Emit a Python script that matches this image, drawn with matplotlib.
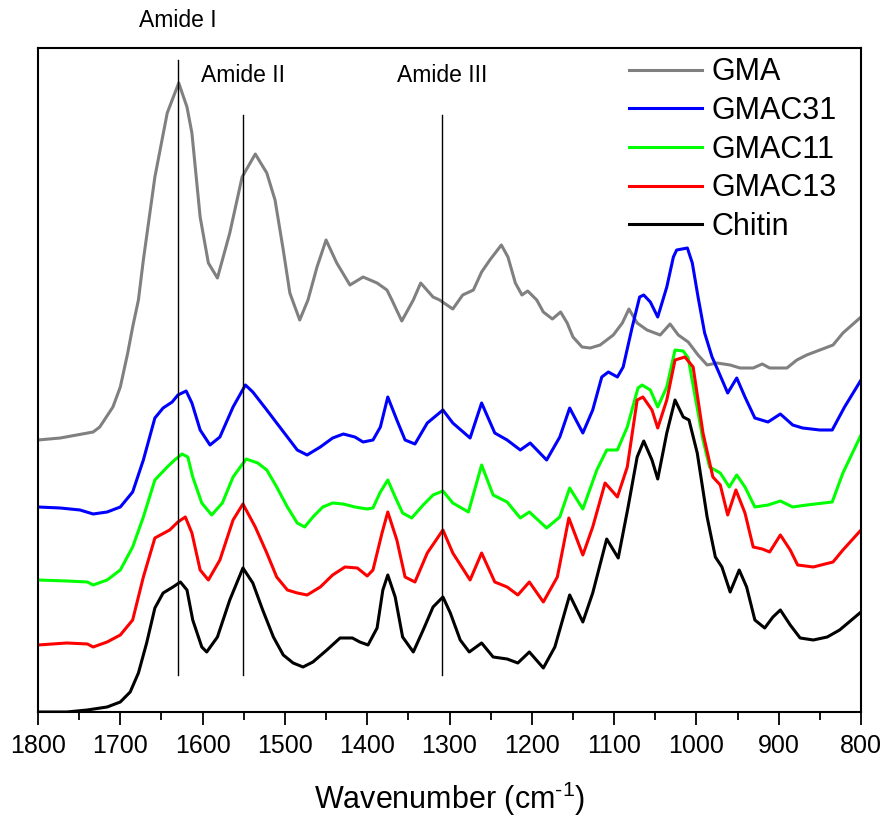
import numpy as np
import matplotlib
matplotlib.use('Agg')
import matplotlib.pyplot as plt
from matplotlib.ticker import MultipleLocator

plt.rcParams['font.family'] = ['Liberation Sans', 'DejaVu Sans']
plt.rcParams['mathtext.fontset'] = 'custom'
plt.rcParams['mathtext.rm'] = 'Liberation Sans'
plt.rcParams['mathtext.it'] = 'Liberation Sans:italic'

# spectra (wavenumber, offset intensity in arbitrary units)
gma_wn = [1800, 1773, 1753, 1733, 1725, 1709, 1700, 1691, 1685, 1678, 1672, 1658, 1643, 1637, 1629,
          1619, 1613, 1603, 1593, 1582, 1567, 1552, 1536, 1522, 1512, 1502, 1494, 1482, 1472, 1461,
          1450, 1437, 1421, 1405, 1388, 1376, 1370, 1358, 1344, 1335, 1320, 1312, 1296, 1284, 1271,
          1261, 1251, 1237, 1229, 1220, 1212, 1205, 1194, 1186, 1175, 1165, 1157, 1150, 1139, 1129,
          1117, 1101, 1090, 1082, 1072, 1060, 1044, 1032, 1022, 1010, 998, 987, 975, 959, 947, 931,
          920, 911, 890, 878, 866, 850, 834, 822, 800]
gma = [272, 274, 277, 280, 285, 305, 325, 359, 385, 412, 452, 535, 599, 612, 629,
       605, 579, 495, 449, 434, 479, 535, 558, 539, 512, 462, 419, 392, 412, 445,
       472, 449, 427, 435, 429, 422, 412, 391, 412, 429, 415, 412, 403, 417, 422,
       440, 452, 467, 455, 429, 417, 421, 412, 400, 393, 400, 389, 375, 365, 364,
       367, 377, 389, 403, 389, 382, 377, 388, 377, 370, 357, 347, 349, 347, 344, 344,
       348, 344, 344, 352, 357, 362, 367, 379, 395]

c31_wn = [1800, 1773, 1749, 1733, 1716, 1700, 1685, 1672, 1658, 1648, 1637, 1630, 1620, 1613, 1603,
          1591, 1579, 1563, 1548, 1539, 1522, 1510, 1497, 1485, 1473, 1457, 1442, 1429, 1415, 1405,
          1393, 1384, 1375, 1364, 1354, 1342, 1327, 1308, 1296, 1275, 1261, 1245, 1230, 1214, 1202,
          1182, 1166, 1154, 1138, 1126, 1115, 1107, 1096, 1089, 1078, 1069, 1064, 1056, 1047, 1036,
          1028, 1024, 1011, 1005, 998, 990, 981, 974, 962, 951, 941, 929, 913, 898, 883, 871, 850,
          835, 820, 800]
c31 = [205, 204, 202, 198, 200, 205, 220, 252, 294, 304, 310, 317, 321, 309, 282,
       267, 275, 305, 327, 320, 302, 289, 275, 262, 257, 265, 274, 278, 275, 270,
       272, 285, 315, 292, 272, 268, 289, 302, 289, 274, 309, 279, 272, 262, 269,
       252, 275, 304, 279, 302, 335, 340, 335, 345, 385, 415, 417, 410, 395, 425,
       455, 462, 464, 449, 415, 379, 355, 342, 319, 334, 315, 294, 290, 298, 287, 284, 282,
       282, 305, 332]

c11_wn = [1800, 1765, 1740, 1733, 1716, 1700, 1685, 1672, 1658, 1643, 1634, 1625, 1618, 1612, 1601,
          1589, 1576, 1563, 1547, 1533, 1522, 1510, 1497, 1485, 1476, 1466, 1454, 1442, 1429, 1415,
          1400, 1393, 1384, 1375, 1366, 1357, 1346, 1332, 1320, 1308, 1296, 1277, 1261, 1247, 1230,
          1214, 1203, 1182, 1166, 1154, 1138, 1121, 1109, 1096, 1084, 1071, 1066, 1056, 1047, 1036,
          1026, 1016, 1010, 992, 984, 971, 960, 951, 941, 929, 913, 898, 883, 866, 835, 822, 800]
c11 = [132, 131, 130, 127, 132, 142, 165, 195, 232, 245, 252, 258, 255, 235, 209,
       197, 209, 235, 253, 249, 242, 225, 205, 189, 185, 195, 205, 209, 208, 205,
       203, 204, 220, 232, 215, 199, 194, 207, 217, 221, 209, 200, 247, 217, 210,
       194, 200, 184, 195, 224, 203, 242, 262, 262, 285, 324, 327, 322, 305, 325,
       362, 361, 354, 272, 245, 239, 225, 237, 225, 205, 207, 211, 205, 207, 210, 239, 277]

c13_wn = [1800, 1765, 1740, 1733, 1716, 1700, 1685, 1672, 1658, 1640, 1630, 1621, 1613, 1603, 1593,
          1579, 1563, 1551, 1536, 1522, 1510, 1497, 1485, 1473, 1457, 1442, 1427, 1412, 1400, 1393,
          1382, 1375, 1364, 1354, 1342, 1327, 1308, 1296, 1275, 1261, 1245, 1230, 1217, 1203, 1186,
          1169, 1155, 1138, 1126, 1111, 1096, 1084, 1072, 1065, 1054, 1047, 1036, 1026, 1014, 1004,
          992, 980, 971, 962, 952, 941, 931, 920, 911, 898, 886, 877, 858, 834, 822, 800]
c13 = [67, 69, 68, 65, 70, 77, 92, 135, 174, 182, 190, 195, 179, 142, 132,
       152, 192, 208, 185, 159, 135, 122, 119, 117, 125, 137, 145, 144, 136, 142,
       179, 200, 172, 135, 130, 159, 182, 159, 132, 159, 130, 125, 117, 130, 110,
       135, 194, 157, 185, 229, 215, 245, 312, 315, 302, 284, 312, 352, 355, 345,
       279, 235, 227, 197, 222, 199, 165, 163, 160, 177, 162, 147, 145, 150, 162, 182]

chitin_wn = [1800, 1765, 1740, 1716, 1700, 1688, 1678, 1668, 1658, 1648, 1636, 1627, 1619, 1612, 1601,
             1595, 1582, 1567, 1551, 1539, 1527, 1514, 1502, 1490, 1478, 1466, 1449, 1433, 1418, 1409,
             1399, 1388, 1381, 1375, 1366, 1357, 1344, 1332, 1320, 1308, 1299, 1287, 1276, 1261, 1247,
             1230, 1217, 1203, 1186, 1172, 1154, 1138, 1126, 1109, 1095, 1083, 1072, 1064, 1054, 1047,
             1036, 1026, 1016, 1009, 999, 987, 977, 969, 959, 948, 939, 929, 917, 907, 898, 886, 874,
             858, 841, 826, 800]
chitin = [0, 0, 2, 5, 10, 20, 39, 69, 104, 119, 125, 130, 122, 92, 65,
          60, 75, 112, 144, 129, 102, 75, 57, 49, 45, 50, 62, 74, 74, 70,
          67, 84, 122, 137, 115, 75, 60, 82, 105, 115, 99, 72, 60, 69, 55,
          53, 49, 60, 44, 65, 117, 90, 119, 173, 154, 205, 255, 271, 252, 233,
          279, 312, 295, 292, 259, 195, 155, 145, 120, 142, 125, 92, 84, 95, 102, 87, 74,
          72, 75, 82, 100]

series = [
    ('GMA', gma_wn, gma, '#808080'),
    ('GMAC31', c31_wn, c31, '#0000ff'),
    ('GMAC11', c11_wn, c11, '#00ff00'),
    ('GMAC13', c13_wn, c13, '#ff0000'),
    ('Chitin', chitin_wn, chitin, '#000000'),
]

# band markers: position, label, top of the marker line
band_pos = [1630, 1551, 1309]
band_labels = ['Amide I', 'Amide II', 'Amide III']
band_top = [652, 597, 597]
band_label_y = [692, 637, 637]

fig = plt.figure(figsize=(8.86, 8.18), dpi=100)
ax = fig.add_axes([0.0429, 0.1296, 0.9289, 0.8117])

for name, wn, y, col in series:
    ax.plot(wn, y, color=col, lw=2.2, label=name)

for pos, lab, top, ly in zip(band_pos, band_labels, band_top, band_label_y):
    ax.plot([pos, pos], [37, top], color='black', lw=1.0)
    ax.text(pos, ly, lab, ha='center', va='center', fontsize=16.5, clip_on=False)

ax.set_xlim(1800, 800)
ax.set_ylim(0, 664)
ax.xaxis.set_major_locator(MultipleLocator(100))
ax.xaxis.set_minor_locator(MultipleLocator(50))
ax.tick_params(axis='x', which='major', direction='out', length=9.5, width=1.3,
               labelsize=18, pad=6)
ax.tick_params(axis='x', which='minor', direction='out', length=5.5, width=1.3)
ax.set_yticks([])
for sp in ax.spines.values():
    sp.set_linewidth(1.5)

ax.set_xlabel(r'Wavenumber (cm$^{\text{-}1}$)', fontsize=22, labelpad=16)

ax.legend(loc='upper left', bbox_to_anchor=(0.718, 0.986), frameon=False, fontsize=22,
          handlelength=2.4, handletextpad=0.3, labelspacing=0.285, borderpad=0,
          borderaxespad=0)

fig.savefig('out.png', dpi=100)
